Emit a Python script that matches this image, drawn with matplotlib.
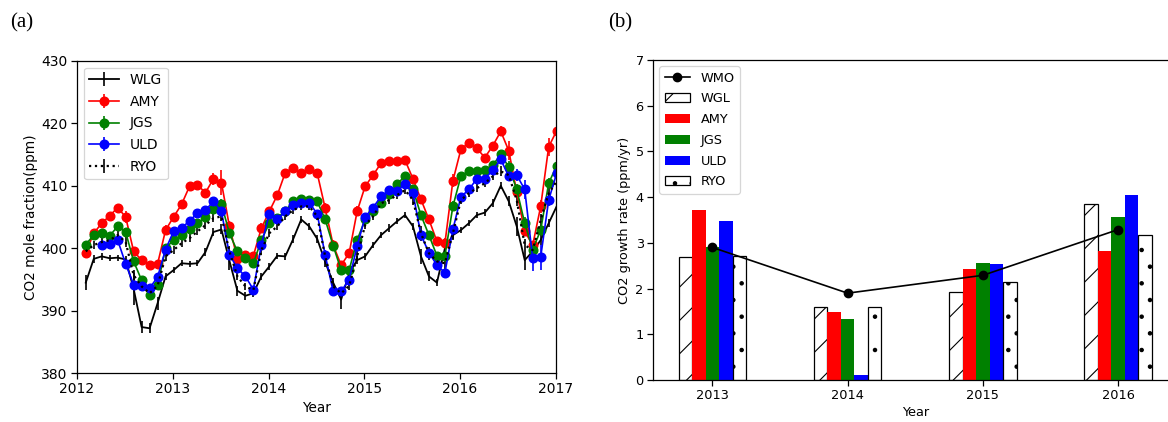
import matplotlib
matplotlib.use("Agg")
import matplotlib.pyplot as plt
import numpy as np

# ---- data panel (a): monthly CO2 mole fraction (ppm), Feb 2012 .. Jan 2017 ----
month_index = np.arange(60)
wlg = [394.5, 398.3, 398.7, 398.4, 398.5, 398.2, 393.5, 387.4, 387.2, 391.2, 395.5,
       396.5, 397.6, 397.5, 397.6, 399.4, 402.6, 403.0, 398.0, 393.2, 392.4, 392.8, 395.5,
       397.1, 398.8, 398.7, 401.5, 404.6, 403.5, 401.5, 397.8, 394.5, 391.8, 396.0, 398.1,
       398.7, 400.5, 402.1, 403.2, 404.3, 405.3, 403.5, 398.7, 395.5, 394.5, 400.0, 402.1,
       402.9, 404.0, 405.3, 405.7, 407.2, 410.0, 407.5, 403.5, 398.1, 399.5, 401.3, 404.0, 406.7]
amy = [399.3, 402.4, 404.0, 405.2, 406.5, 405.0, 399.5, 398.1, 397.3, 397.5, 402.9,
       405.0, 407.0, 409.9, 410.1, 408.9, 411.1, 410.5, 403.5, 398.3, 399.0, 398.8, 403.2,
       405.9, 408.5, 412.1, 412.9, 412.0, 412.6, 412.0, 406.4, 400.5, 397.3, 399.2, 405.9,
       409.9, 411.7, 413.6, 414.0, 413.9, 414.1, 411.1, 407.8, 404.6, 401.1, 400.8, 410.8,
       415.8, 416.9, 416.0, 414.5, 416.4, 418.7, 415.6, 409.0, 402.7, 400.5, 406.7, 416.2, 418.8]
jgs = [400.6, 402.1, 402.5, 402.0, 403.5, 402.6, 397.9, 394.9, 392.5, 394.1, 400.0,
       401.3, 402.1, 403.0, 404.0, 405.0, 406.2, 407.1, 402.4, 399.5, 398.5, 397.6, 401.3,
       404.0, 404.8, 406.0, 407.5, 407.8, 407.7, 407.5, 404.6, 400.4, 396.5, 396.5, 401.3,
       404.6, 406.0, 407.2, 408.6, 410.3, 411.5, 409.4, 405.3, 402.1, 398.8, 398.8, 406.7,
       411.5, 412.4, 412.4, 412.5, 413.3, 415.0, 413.0, 409.4, 404.0, 399.8, 402.9, 410.4, 413.2]
uld = [np.nan, np.nan, 400.5, 400.7, 401.3, 397.5, 394.2, 394.0, 393.6, 395.4, 399.8,
       402.7, 403.2, 404.4, 405.6, 406.1, 407.5, 405.9, 399.0, 396.8, 395.5, 393.4, 400.5,
       405.5, 404.6, 405.9, 406.9, 407.3, 407.3, 405.5, 398.9, 393.1, 393.1, 395.0, 400.3,
       405.0, 406.5, 408.3, 409.3, 409.2, 410.3, 408.8, 402.1, 399.3, 397.3, 396.1, 403.0,
       408.2, 409.4, 411.1, 411.1, 412.5, 414.2, 411.5, 411.7, 409.4, 398.4, 398.6, 407.7, 412.0]
ryo = [399.5, 400.5, 401.0, 401.3, 402.1, 401.0, 395.7, 393.9, 392.8, 394.0, 398.7,
       399.7, 400.8, 401.6, 402.7, 403.7, 404.8, 405.1, 399.5, 395.5, 393.9, 393.3, 399.7,
       402.4, 403.5, 405.1, 406.1, 406.7, 406.7, 405.1, 398.7, 393.9, 392.8, 394.0, 398.7,
       403.7, 405.1, 407.2, 407.7, 408.5, 409.3, 407.7, 402.4, 399.2, 397.9, 397.6, 402.4,
       407.7, 408.8, 409.6, 410.4, 411.5, 412.3, 411.7, 407.7, 400.5, 399.7, 404.5, 408.8, 410.7]

# error bars (+-ppm)
wlg_err = [1.2, 0.6, 0.5, 0.5, 0.5, 0.6, 2.5, 1.0, 0.8, 1.0, 0.6,
           0.5, 0.5, 0.5, 0.5, 0.6, 0.6, 0.8, 1.5, 0.8, 0.6, 0.6, 0.6,
           0.5, 0.5, 0.5, 0.6, 0.6, 0.6, 0.6, 0.8, 0.8, 1.5, 1.2, 0.6,
           0.5, 0.5, 0.5, 0.6, 0.5, 0.5, 0.6, 1.2, 0.8, 0.6, 0.8, 0.6,
           0.5, 0.5, 0.5, 0.5, 0.6, 0.6, 0.8, 1.5, 1.5, 1.0, 0.8, 0.6, 0.6]
amy_err = [0.5, 0.5, 0.5, 0.5, 0.6, 1.0, 0.6, 0.5, 0.5, 0.5, 0.8,
           0.5, 0.5, 0.5, 0.5, 0.5, 1.0, 2.0, 0.8, 0.5, 0.5, 0.5, 0.8,
           0.5, 0.5, 0.5, 0.5, 0.5, 0.5, 0.5, 0.8, 0.8, 0.5, 0.5, 0.8,
           0.5, 0.5, 0.5, 0.5, 0.5, 0.5, 0.6, 0.6, 0.6, 0.5, 0.8, 1.0,
           0.5, 0.5, 0.5, 0.5, 0.5, 0.8, 1.5, 1.0, 0.8, 0.6, 1.0, 1.5, 0.8]
jgs_err = [0.5, 0.5, 0.5, 0.5, 0.5, 0.6, 0.6, 0.5, 0.5, 0.5, 0.6,
           0.5, 0.5, 0.5, 0.5, 0.5, 0.5, 0.8, 0.6, 0.5, 0.5, 0.5, 0.6,
           0.5, 0.5, 0.5, 0.5, 0.5, 0.5, 0.5, 0.6, 0.6, 0.5, 0.5, 0.6,
           0.5, 0.5, 0.5, 0.5, 0.5, 0.5, 0.6, 0.6, 0.5, 0.5, 0.5, 0.8,
           0.5, 0.5, 0.5, 0.5, 0.5, 0.6, 1.0, 0.8, 1.0, 0.8, 0.8, 0.8, 0.6]
uld_err = [np.nan, np.nan, 0.5, 0.5, 0.5, 0.6, 0.5, 0.5, 0.5, 0.6, 0.6,
           0.5, 0.5, 0.5, 0.5, 0.5, 0.5, 0.6, 0.8, 0.6, 0.5, 0.5, 0.6,
           0.5, 0.5, 0.5, 0.5, 0.5, 0.5, 0.5, 0.8, 0.6, 0.6, 1.0, 0.6,
           0.5, 0.5, 0.5, 0.5, 0.5, 0.5, 0.6, 0.8, 0.6, 0.5, 0.5, 0.6,
           0.5, 0.5, 0.5, 0.5, 0.5, 0.6, 0.8, 1.0, 1.5, 2.0, 2.0, 1.0, 0.8]
ryo_err = [0.6, 0.6, 0.6, 0.6, 0.6, 0.8, 0.8, 0.6, 0.6, 0.6, 0.8,
           0.6, 0.6, 0.6, 0.6, 0.6, 0.6, 0.8, 0.8, 0.6, 0.6, 0.6, 0.8,
           0.6, 0.6, 0.6, 0.6, 0.6, 0.6, 0.6, 0.8, 0.8, 0.6, 0.6, 0.8,
           0.6, 0.6, 0.6, 0.6, 0.6, 0.6, 0.8, 1.2, 1.0, 1.0, 1.0, 1.0,
           0.6, 0.6, 0.6, 0.6, 0.6, 0.8, 0.8, 1.0, 1.0, 1.0, 1.0, 0.8, 0.8]

# ---- data panel (b): annual growth rate (ppm/yr) ----
years = [2013, 2014, 2015, 2016]
wmo_rate = [2.90, 1.90, 2.29, 3.29]
wgl_rate = [2.68, 1.60, 1.93, 3.86]
amy_rate = [3.71, 1.48, 2.42, 2.82]
jgs_rate = [2.90, 1.34, 2.57, 3.57]
uld_rate = [3.48, 0.10, 2.54, 4.05]
ryo_rate = [2.72, 1.60, 2.14, 3.17]

plt.rcParams.update({
    "font.family": "DejaVu Sans",
    "axes.linewidth": 0.9,
    "lines.linewidth": 1.1,
    "patch.linewidth": 0.9,
    "hatch.linewidth": 0.8,
    "xtick.major.size": 4.0,
    "ytick.major.size": 4.0,
    "xtick.major.width": 0.9,
    "ytick.major.width": 0.9,
    "xtick.major.pad": 2.6,
    "ytick.major.pad": 2.6,
    "axes.labelpad": 3.0,
    "legend.edgecolor": "0.8",
})

fig = plt.figure(figsize=(11.68, 4.22), dpi=100)

# ---------------- panel (a) ----------------
ax1 = fig.add_axes([0.0659, 0.1154, 0.410, 0.7408])
t = 2012 + (month_index + 1.1) / 12

fs_a = 10
ms = 6.2
ax1.errorbar(t, wlg, yerr=wlg_err, color="k", lw=1.3, elinewidth=1.2, label="WLG")
ax1.errorbar(t, amy, yerr=amy_err, color="r", marker="o", ms=ms, lw=1.2, elinewidth=1.2, label="AMY")
ax1.errorbar(t, jgs, yerr=jgs_err, color="g", marker="o", ms=ms, lw=1.2, elinewidth=1.2, label="JGS")
ax1.errorbar(t, uld, yerr=uld_err, color="b", marker="o", ms=ms, lw=1.2, elinewidth=1.2, label="ULD")
ax1.errorbar(t, ryo, yerr=ryo_err, color="k", ls=":", lw=1.6, elinewidth=1.2, label="RYO")

ax1.set_xlim(2012, 2017)
ax1.set_ylim(380, 430)
ax1.set_xticks([2012, 2013, 2014, 2015, 2016, 2017])
ax1.tick_params(labelsize=fs_a)
ax1.set_xlabel("Year", fontsize=9.8)
ax1.set_ylabel("CO2 mole fraction(ppm)", fontsize=9.8, labelpad=2.5)
ax1.legend(loc="upper left", fontsize=10, labelspacing=0.55, handlelength=2.1)

# ---------------- panel (b) ----------------
ax2 = fig.add_axes([0.559, 0.0995, 0.4492, 0.7583])
fs_b = 9.3
w = 0.1
x = np.array(years)
ax2.bar(x - 2 * w, wgl_rate, w, color="white", edgecolor="k", hatch="/", label="WGL")
ax2.bar(x - w, amy_rate, w, color="r", linewidth=0, label="AMY")
ax2.bar(x, jgs_rate, w, color="g", linewidth=0, label="JGS")
ax2.bar(x + w, uld_rate, w, color="b", linewidth=0, label="ULD")
ax2.bar(x + 2 * w, ryo_rate, w, color="white", edgecolor="k", hatch=".", label="RYO")
ax2.plot(x, wmo_rate, color="k", marker="o", ms=6.0, lw=1.2, label="WMO")

ax2.set_xlim(2012.56, 2016.44)
ax2.set_ylim(0, 7)
ax2.set_xticks(years)
ax2.tick_params(labelsize=fs_b)
ax2.set_xlabel("Year", fontsize=fs_b)
ax2.set_ylabel("CO2 growth rate (ppm/yr)", fontsize=fs_b)
h, l = ax2.get_legend_handles_labels()
order = [l.index(n) for n in ["WMO", "WGL", "AMY", "JGS", "ULD", "RYO"]]
ax2.legend([h[i] for i in order], [l[i] for i in order], loc="upper left",
           fontsize=9.3, labelspacing=0.6)

fig.text(10 / 1168, 1 - 13 / 422, "(a)", family="Liberation Serif", fontsize=15, va="top")
fig.text(608 / 1168, 1 - 13 / 422, "(b)", family="Liberation Serif", fontsize=15, va="top")

fig.savefig("out.png", dpi=100)
